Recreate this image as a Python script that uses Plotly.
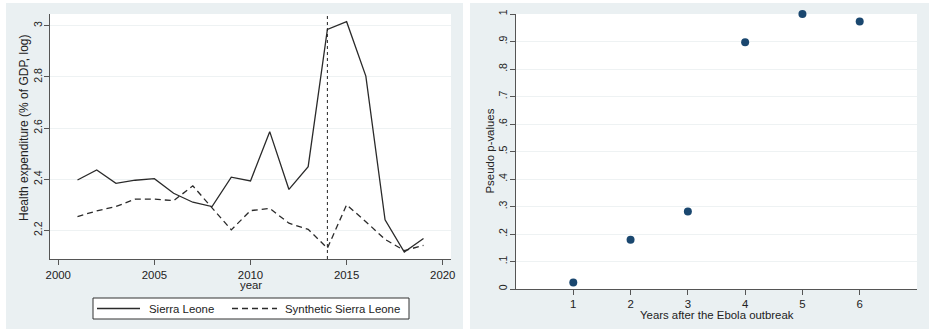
import plotly.graph_objects as go

years = list(range(2001, 2020))
sierra_leone = [2.397, 2.436, 2.384, 2.396, 2.402, 2.345, 2.310, 2.293, 2.408, 2.393,
                2.586, 2.360, 2.449, 2.986, 3.016, 2.803, 2.241, 2.115, 2.168]
synthetic = [2.254, 2.276, 2.293, 2.322, 2.322, 2.316, 2.374, 2.286, 2.202, 2.277,
             2.286, 2.228, 2.204, 2.130, 2.300, 2.234, 2.165, 2.121, 2.141]
treat_year = 2014

years_after = [1, 2, 3, 4, 5, 6]
pseudo_p = [0.024, 0.179, 0.282, 0.897, 1.0, 0.973]

left_yticks = [2.2, 2.4, 2.6, 2.8, 3.0]
left_yticktext = ["2.2", "2.4", "2.6", "2.8", "3"]
left_xticks = [2000, 2005, 2010, 2015, 2020]
right_yticks = [0, 0.1, 0.2, 0.3, 0.4, 0.5, 0.6, 0.7, 0.8, 0.9, 1.0]
right_yticktext = ["0", ".1", ".2", ".3", ".4", ".5", ".6", ".7", ".8", ".9", "1"]

series_names = ["Sierra Leone", "Synthetic Sierra Leone"]
left_ytitle = "Health expenditure (% of GDP, log)"
left_xtitle = "year"
right_ytitle = "Pseudo p-values"
right_xtitle = "Years after the Ebola outbreak"

W, H = 951, 330
def px(x):
    return x / W
def py(y):
    return 1 - y / H

FONT = "Liberation Sans, Arial, sans-serif"
FS = 11.4
FSY = 10.5
TXT = "#222222"
AX = "#555555"
GRID = "#eef2f3"
PANEL = "#eaf0f2"
LINE = "#2a2a2a"
DASH = "6px,4px"

fig = go.Figure()

fig.add_trace(go.Scatter(x=years, y=sierra_leone, mode="lines", name=series_names[0],
                         line=dict(color=LINE, width=1.3), xaxis="x", yaxis="y",
                         showlegend=False))
fig.add_trace(go.Scatter(x=years, y=synthetic, mode="lines", name=series_names[1],
                         line=dict(color=LINE, width=1.3, dash=DASH), xaxis="x", yaxis="y",
                         showlegend=False))
fig.add_trace(go.Scatter(x=years_after, y=pseudo_p, mode="markers", showlegend=False,
                         cliponaxis=False,
                         marker=dict(color="#1a476f", size=8), xaxis="x2", yaxis="y2"))

shapes = [
    dict(type="rect", xref="paper", yref="paper", x0=px(6), x1=px(463), y0=py(329), y1=py(3),
         fillcolor=PANEL, line=dict(width=0), layer="below"),
    dict(type="rect", xref="paper", yref="paper", x0=px(470), x1=px(929), y0=py(329), y1=py(3),
         fillcolor=PANEL, line=dict(width=0), layer="below"),
    dict(type="rect", xref="paper", yref="paper", x0=px(50), x1=px(451), y0=py(259), y1=py(14),
         fillcolor="white", line=dict(width=0), layer="below"),
    dict(type="rect", xref="paper", yref="paper", x0=px(516), x1=px(917), y0=py(289), y1=py(14),
         fillcolor="white", line=dict(width=0), layer="below"),
    dict(type="line", xref="x", yref="y domain", x0=treat_year, x1=treat_year, y0=0, y1=1,
         line=dict(color="#222222", width=1, dash="dot")),
    # legend box and samples
    dict(type="rect", xref="paper", yref="paper", x0=px(93), x1=px(409), y0=py(319), y1=py(298),
         fillcolor="white", line=dict(color="#333333", width=1)),
    dict(type="line", xref="paper", yref="paper", x0=px(97), x1=px(140), y0=py(308.5),
         y1=py(308.5), line=dict(color=LINE, width=1.3)),
    dict(type="line", xref="paper", yref="paper", x0=px(232), x1=px(277), y0=py(308.5),
         y1=py(308.5), line=dict(color=LINE, width=1.3, dash=DASH)),
]

annotations = [
    dict(text=series_names[0], xref="paper", yref="paper", x=px(147), y=py(308.5),
         xanchor="left", yanchor="middle", showarrow=False, font=dict(size=FS, color=TXT)),
    dict(text=series_names[1], xref="paper", yref="paper", x=px(283), y=py(308.5),
         xanchor="left", yanchor="middle", showarrow=False, font=dict(size=FS, color=TXT)),
    dict(text=left_ytitle, xref="paper", yref="paper", x=px(24), y=py(128), textangle=-90,
         xanchor="center", yanchor="middle", showarrow=False, font=dict(size=12, color=TXT)),
    dict(text=left_xtitle, xref="paper", yref="paper", x=px(250.5), y=py(285),
         xanchor="center", yanchor="middle", showarrow=False, font=dict(size=FS, color=TXT)),
    dict(text=right_ytitle, xref="paper", yref="paper", x=px(489), y=py(151.5), textangle=-90,
         xanchor="center", yanchor="middle", showarrow=False, font=dict(size=FS, color=TXT)),
    dict(text=right_xtitle, xref="paper", yref="paper", x=px(716.5), y=py(314.5),
         xanchor="center", yanchor="middle", showarrow=False, font=dict(size=FS, color=TXT)),
]

axis_common = dict(showline=True, linecolor=AX, linewidth=1.2, ticks="outside", ticklen=5,
                   tickcolor=AX, tickwidth=1, zeroline=False, automargin=False)
xfont = dict(family=FONT, size=FS, color=TXT)
yfont = dict(family=FONT, size=FSY, color=TXT)

fig.update_layout(
    width=W, height=H, margin=dict(l=0, r=0, t=0, b=0),
    paper_bgcolor="white", plot_bgcolor="white",
    font=dict(family=FONT, size=FS, color=TXT),
    shapes=shapes, annotations=annotations, showlegend=False,
    xaxis=dict(domain=[px(50), px(451)], range=[1999.57, 2020.43], tickvals=left_xticks,
               showgrid=False, anchor="y", tickfont=xfont, **axis_common),
    yaxis=dict(domain=[py(259), py(14)], range=[2.088, 3.046], tickvals=left_yticks,
               ticktext=left_yticktext, tickangle=-90, showgrid=True, gridcolor=GRID, gridwidth=1,
               anchor="x", tickfont=yfont, ticklabelstandoff=-2, **axis_common),
    xaxis2=dict(domain=[px(516), px(917)], range=[0, 7], tickvals=years_after,
                showgrid=False, anchor="y2", ticklabelstandoff=-1, tickfont=xfont,
                **axis_common),
    yaxis2=dict(domain=[py(289), py(14)], range=[0, 1], tickvals=right_yticks,
                ticktext=right_yticktext, tickangle=-90, showgrid=True, gridcolor=GRID,
                gridwidth=1, anchor="x2", tickfont=yfont, ticklabelstandoff=-1,
                **axis_common),
)

fig.write_html("out.html", config={"displayModeBar": False},
               post_script="document.body.style.margin='0';document.body.style.overflow='hidden';")
